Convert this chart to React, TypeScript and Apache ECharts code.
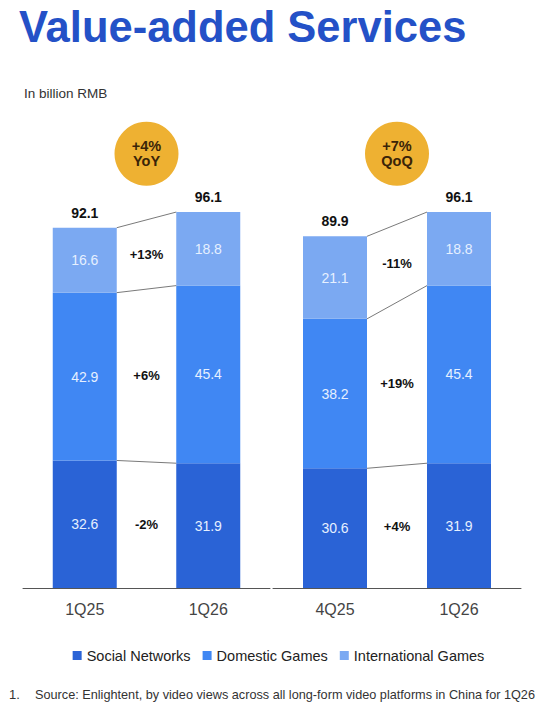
import React, { useEffect, useRef } from "react";
import * as echarts from "echarts";

// ---- data ----
const yoyCategories = ["1Q25", "1Q26"];
const qoqCategories = ["4Q25", "1Q26"];

const yoySocial = [32.6, 31.9];
const yoyDomestic = [42.9, 45.4];
const yoyInternational = [16.6, 18.8];
const yoyTotals = [92.1, 96.1];
const yoyChanges = ["-2%", "+6%", "+13%"]; // social, domestic, international

const qoqSocial = [30.6, 31.9];
const qoqDomestic = [38.2, 45.4];
const qoqInternational = [21.1, 18.8];
const qoqTotals = [89.9, 96.1];
const qoqChanges = ["+4%", "+19%", "-11%"];

const badgeTexts = [["+4%", "YoY"], ["+7%", "QoQ"]];
const seriesNames = ["Social Networks", "Domestic Games", "International Games"];

// ---- styles ----
const FONT = "'Liberation Sans', Arial, sans-serif";
const C_SOCIAL = "#2A63D6";
const C_DOMESTIC = "#4087F3";
const C_INTL = "#7BA9F2";
const BAR_W = 64;
const BADGE_LEVEL = 111;

function makeRenderer(
  social: number[],
  domestic: number[],
  intl: number[],
  totals: number[],
  changes: string[],
  badge: string[]
) {
  return (params: any, api: any) => {
    const half = BAR_W / 2;
    const b0 = [0, social[0], social[0] + domestic[0], totals[0]];
    const b1 = [0, social[1], social[1] + domestic[1], totals[1]];
    const children: any[] = [];
    const c0 = api.coord([0, 0]);
    const c1 = api.coord([1, 0]);
    const midX = (c0[0] + c1[0]) / 2;
    for (let k = 1; k <= 3; k++) {
      const p0 = api.coord([0, b0[k]]);
      const p1 = api.coord([1, b1[k]]);
      children.push({
        type: "line",
        shape: { x1: p0[0] + half, y1: p0[1], x2: p1[0] - half, y2: p1[1] },
        style: { stroke: "#7a7a7a", lineWidth: 1 },
      });
    }
    for (let k = 0; k < 3; k++) {
      const m0 = api.coord([0, (b0[k] + b0[k + 1]) / 2])[1];
      const m1 = api.coord([1, (b1[k] + b1[k + 1]) / 2])[1];
      children.push({
        type: "text",
        x: midX,
        y: (m0 + m1) / 2,
        style: {
          text: changes[k],
          fill: "#111",
          fontSize: 13,
          fontWeight: "bold",
          fontFamily: FONT,
          align: "center",
          verticalAlign: "middle",
        },
      });
    }
    [0, 1].forEach((i) => {
      const p = api.coord([i, totals[i]]);
      children.push({
        type: "text",
        x: p[0],
        y: p[1] - 15,
        style: {
          text: totals[i].toFixed(1),
          fill: "#111",
          fontSize: 14,
          fontWeight: "bold",
          fontFamily: FONT,
          align: "center",
          verticalAlign: "middle",
        },
      });
    });
    const by = api.coord([0, BADGE_LEVEL])[1];
    children.push({
      type: "circle",
      shape: { cx: midX, cy: by, r: 32 },
      style: { fill: "#EEB132" },
    });
    badge.forEach((t, i) => {
      children.push({
        type: "text",
        x: midX,
        y: by + (i === 0 ? -7.5 : 7.5),
        style: {
          text: t,
          fill: "#3a2408",
          fontSize: 14.5,
          fontWeight: "bold",
          fontFamily: FONT,
          align: "center",
          verticalAlign: "middle",
        },
      });
    });
    return { type: "group", children };
  };
}

function barSeries(gi: number, social: number[], domestic: number[], intl: number[]) {
  const colors = [C_SOCIAL, C_DOMESTIC, C_INTL];
  const datas = [social, domestic, intl];
  return datas.map((d, k) => ({
    name: seriesNames[k],
    type: "bar",
    stack: "stack" + gi,
    xAxisIndex: gi,
    yAxisIndex: gi,
    barWidth: BAR_W,
    data: d,
    itemStyle: { color: colors[k] },
    label: {
      show: true,
      position: "inside",
      color: "#E6F0FF",
      fontSize: 14,
      fontFamily: FONT,
      formatter: (p: any) => Number(p.value).toFixed(1),
    },
  }));
}

export default function App() {
  const ref = useRef<HTMLDivElement>(null);
  useEffect(() => {
    if (!ref.current) return;
    const chart = echarts.init(ref.current, undefined, { renderer: "svg" });
    const xAxisCommon = {
      type: "category" as const,
      axisTick: { show: false },
      axisLine: { lineStyle: { color: "#555", width: 1 } },
      axisLabel: { fontSize: 16, color: "#444", margin: 13, fontFamily: FONT },
    };
    const yAxisCommon = {
      type: "value" as const,
      min: 0,
      max: 125,
      show: false,
      splitLine: { show: false },
    };
    chart.setOption({
      animation: false,
      backgroundColor: "#ffffff",
      textStyle: { fontFamily: FONT },
      grid: [
        { left: 23, width: 247, top: 99, bottom: 123 },
        { left: 273, width: 248, top: 99, bottom: 123 },
      ],
      xAxis: [
        { ...xAxisCommon, gridIndex: 0, data: yoyCategories },
        { ...xAxisCommon, gridIndex: 1, data: qoqCategories },
      ],
      yAxis: [
        { ...yAxisCommon, gridIndex: 0 },
        { ...yAxisCommon, gridIndex: 1 },
      ],
      legend: {
        data: seriesNames,
        top: 643,
        left: "center",
        icon: "rect",
        itemWidth: 9,
        itemHeight: 9,
        itemGap: 12,
        textStyle: { fontSize: 14.5, color: "#222", fontFamily: FONT },
      },
      graphic: [
        {
          type: "text",
          left: 19,
          top: 5,
          style: {
            text: "Value-added Services",
            fill: "#2451C7",
            fontSize: 43.5,
            fontWeight: "bold",
            fontFamily: FONT,
          },
        },
        {
          type: "text",
          left: 24,
          top: 86,
          style: { text: "In billion RMB", fill: "#333", fontSize: 13.5, fontFamily: FONT },
        },
        {
          type: "text",
          left: 9,
          top: 688,
          style: { text: "1.", fill: "#333", fontSize: 13, fontFamily: FONT },
        },
        {
          type: "text",
          left: 35,
          top: 688,
          style: {
            text: "Source: Enlightent, by video views across all long-form video platforms in China for 1Q26",
            fill: "#333",
            fontSize: 12.7,
            fontFamily: FONT,
          },
        },
      ],
      series: [
        ...barSeries(0, yoySocial, yoyDomestic, yoyInternational),
        ...barSeries(1, qoqSocial, qoqDomestic, qoqInternational),
        {
          type: "custom",
          name: "yoyAnnotations",
          xAxisIndex: 0,
          yAxisIndex: 0,
          z: 10,
          silent: true,
          data: [[0, 0]],
          renderItem: makeRenderer(yoySocial, yoyDomestic, yoyInternational, yoyTotals, yoyChanges, badgeTexts[0]),
        },
        {
          type: "custom",
          name: "qoqAnnotations",
          xAxisIndex: 1,
          yAxisIndex: 1,
          z: 10,
          silent: true,
          data: [[0, 0]],
          renderItem: makeRenderer(qoqSocial, qoqDomestic, qoqInternational, qoqTotals, qoqChanges, badgeTexts[1]),
        },
      ],
    });
    return () => chart.dispose();
  }, []);
  return (
    <div
      ref={ref}
      style={{ position: "fixed", left: 0, top: 0, width: 557, height: 711 }}
    />
  );
}
